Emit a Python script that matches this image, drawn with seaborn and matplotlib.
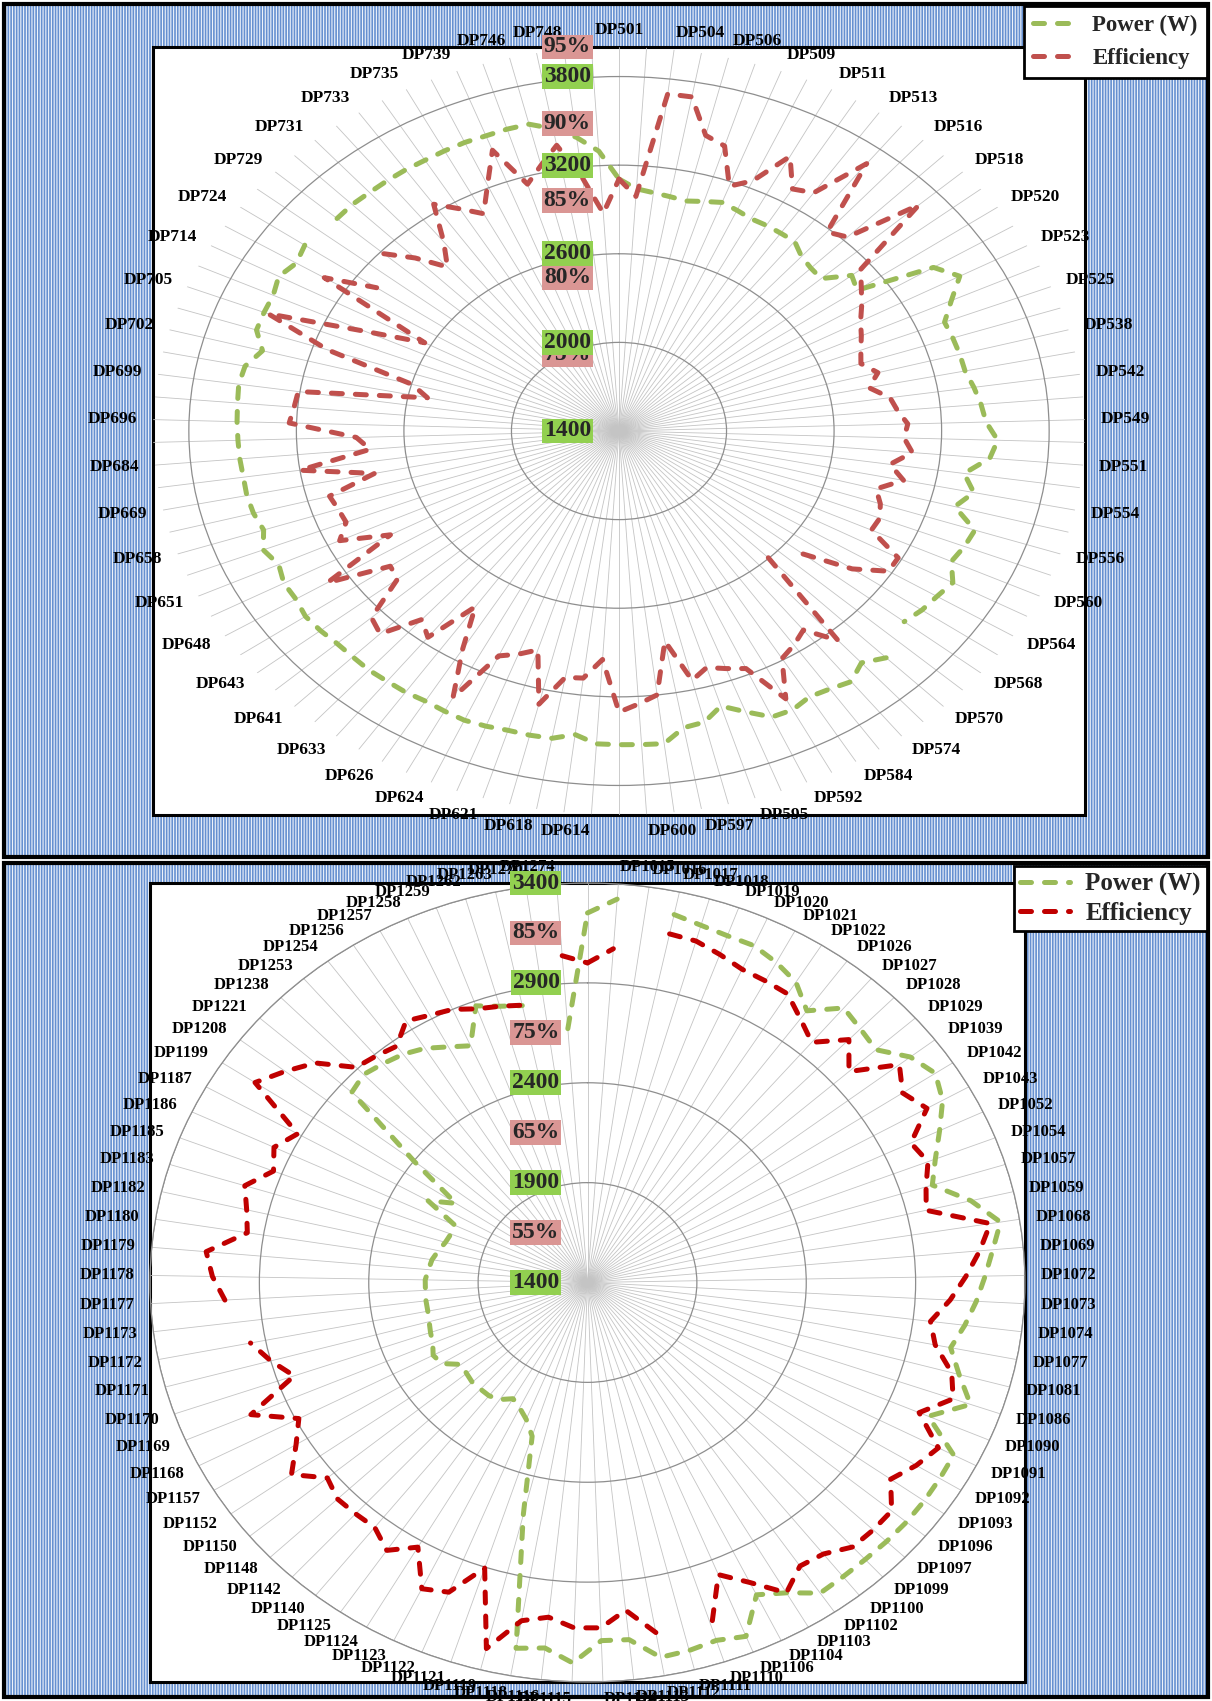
import numpy as np
import pandas as pd
import seaborn as sns
import matplotlib.pyplot as plt
from matplotlib.patches import Rectangle
from matplotlib.lines import Line2D
from matplotlib.transforms import offset_copy

sns.set_theme(style="white")
plt.rcParams['font.family'] = ['Liberation Serif', 'DejaVu Serif']
plt.rcParams['hatch.linewidth'] = 0.8

nan = np.nan

# ---- top chart (106 spokes, label on every second spoke) ----
top_labels = ['DP501', 'DP504', 'DP506', 'DP509', 'DP511', 'DP513', 'DP516', 'DP518', 'DP520',
              'DP523', 'DP525', 'DP538', 'DP542', 'DP549', 'DP551', 'DP554', 'DP556', 'DP560',
              'DP564', 'DP568', 'DP570', 'DP574', 'DP584', 'DP592', 'DP595', 'DP597', 'DP600',
              'DP614', 'DP618', 'DP621', 'DP624', 'DP626', 'DP633', 'DP641', 'DP643', 'DP648',
              'DP651', 'DP658', 'DP669', 'DP684', 'DP696', 'DP699', 'DP702', 'DP705', 'DP714',
              'DP724', 'DP729', 'DP731', 'DP733', 'DP735', 'DP739', 'DP746', 'DP748']

top_power = [3106, 3043, 3025, 3012, 3002, 3025, 3051, 3033, 3015, 3017,
             3015, 3015, 2960, 2937, 2929, 3072, 3035, 3475, 3571, 3454,
             3360, 3366, 3371, 3373, 3402, 3428, 3449, 3514, 3477, 3347,
             3423, 3342, 3496, 3480, 3454, 3527, 3498, 3480, 3449, nan,
             3540, 3472, 3535, 3506, 3490, 3522, 3516, 3428, 3347, 3428,
             3441, 3532, 3527, 3524, 3522, 3470, 3514, 3519, 3519, 3532,
             3540, 3532, 3524, 3532, 3532, 3537, 3532, 3532, 3545, 3553,
             3532, 3535, 3503, 3542, 3493, 3514, 3522, 3519, 3524, 3527,
             3532, 3537, 3545, 3532, 3462, 3535, 3537, 3537, 3568, 3529,
             3558, nan, 3532, 3537, 3532, 3532, 3532, 3529, 3532, 3535,
             3532, 3537, 3537, 3480, 3402, 3298]

top_eff = [86.4, 85.3, 92.1, 92.1, 89.8, 89.4, 87.0, 87.8, 90.1, 88.3,
           88.7, 91.9, 87.1, 87.6, 91.8, 86.7, 86.0, 85.4, 84.8, 84.4,
           84.0, 83.7, 84.4, 83.7, 84.7, 85.0, 85.5, 85.3, 85.8, 84.7,
           85.6, 84.3, 84.8, 85.1, 85.0, 87.1, 87.1, 85.4, 82.7, nan,
           81.5, 88.0, 86.3, 86.8, 87.2, 89.6, 86.9, 86.5, 86.1, 86.7,
           83.9, 87.3, 87.8, 88.3, 84.9, 86.2, 86.3, 88.3, 84.9, 85.5,
           86.0, 89.5, 86.5, 83.8, 86.9, 86.2, 88.4, 88.0, 85.3, 85.1,
           88.5, 84.0, 86.6, 85.8, 85.9, 86.1, 83.4, 87.3, 83.4, 84.1,
           87.7, 87.5, 87.4, 80.5, 81.5, 86.5, 90.3, 85.1, 81.9, 88.7,
           86.0, nan, 87.1, 85.7, 84.1, 85.5, 87.8, 86.8, 85.9, 87.5,
           89.5, 86.8, 87.8, 88.9, 86.6, 84.2]

top_power_ticks = [1400, 2000, 2600, 3200, 3800]
top_eff_ticks = [75, 80, 85, 90, 95]

# ---- bottom chart (89 spokes, first label hidden) ----
bot_labels = ['', 'DP1015', 'DP1016', 'DP1017', 'DP1018', 'DP1019', 'DP1020', 'DP1021', 'DP1022',
              'DP1026', 'DP1027', 'DP1028', 'DP1029', 'DP1039', 'DP1042', 'DP1043', 'DP1052',
              'DP1054', 'DP1057', 'DP1059', 'DP1068', 'DP1069', 'DP1072', 'DP1073', 'DP1074',
              'DP1077', 'DP1081', 'DP1086', 'DP1090', 'DP1091', 'DP1092', 'DP1093', 'DP1096',
              'DP1097', 'DP1099', 'DP1100', 'DP1102', 'DP1103', 'DP1104', 'DP1106', 'DP1110',
              'DP1111', 'DP1112', 'DP1113', 'DP1114', 'DP1115', 'DP1116', 'DP1118', 'DP1119',
              'DP1121', 'DP1122', 'DP1123', 'DP1124', 'DP1125', 'DP1140', 'DP1142', 'DP1148',
              'DP1150', 'DP1152', 'DP1157', 'DP1168', 'DP1169', 'DP1170', 'DP1171', 'DP1172',
              'DP1173', 'DP1177', 'DP1178', 'DP1179', 'DP1180', 'DP1182', 'DP1183', 'DP1185',
              'DP1186', 'DP1187', 'DP1199', 'DP1208', 'DP1221', 'DP1238', 'DP1253', 'DP1254',
              'DP1256', 'DP1257', 'DP1258', 'DP1259', 'DP1262', 'DP1263', 'DP1270', 'DP1274']

bot_power = [3250, 3324, nan, 3284, 3262, 3250, 3250, 3220, 3180, 3090,
             3206, 3180, 3160, 3258, 3304, 3262, 3180, 3106, 3050, 3200,
             3312, 3260, 3218, 3180, 3138, 3092, 3160, 3254, 3096, 3284,
             3286, 3288, 3288, 3284, 3280, 3280, 3284, 3200, 3144, 3314,
             3286, 3300, 3306, 3198, 3194, 3306, 3240, 3260, 2600, 2210,
             2140, 2100, 2074, 2110, 2124, 2124, 2126, 2116, 2108, 2180,
             2194, 2170, 2160, 2150, 2144, 2144, 2142, 2142, 2130, 2120,
             2100, 2080, 2070, 2070, 2236, 2120, 2396, 2838, 2860, 2840,
             2820, 2788, 2740, 2700, 2876, 2840, 2818, nan, 2674]

bot_eff = [82.0, 83.5, nan, 85.7, 85.6, 85.0, 84.4, 84.3, 84.2, 82.8,
           81.6, 84.1, 81.9, 85.9, 84.5, 85.6, 82.7, 83.4, 82.4, 81.8,
           87.3, 86.0, 84.6, 83.2, 81.6, 82.4, 84.5, 85.4, 83.0, 86.1,
           85.2, 84.0, 86.0, 86.0, 85.9, 84.7, 84.4, 86.0, 83.5, 81.6,
           86.3, nan, 85.6, 83.0, 84.6, 84.6, 83.7, 84.4, 87.8, 80.1,
           83.5, 84.2, 80.7, 82.5, 81.3, 81.4, 81.5, 80.8, 83.2, 81.2,
           79.7, 83.5, 78.4, 80.0, 81.4, nan, 83.2, 84.3, 85.0, 81.5,
           82.0, 82.8, 80.8, 81.7, 80.4, 86.4, 84.8, 83.2, 80.2, 79.8,
           79.4, 81.0, 80.4, 80.0, 79.2, 78.8, 78.4, nan, 82.8]

bot_power_ticks = [1400, 1900, 2400, 2900, 3400]
bot_eff_ticks = [55, 65, 75, 85]

W, H = 1212, 1701
fig = plt.figure(figsize=(W / 100, H / 100), dpi=100)
fig.patch.set_facecolor('white')


def fbox(x0, y0, x1, y1):
    return [x0 / W, 1 - y1 / H, (x1 - x0) / W, (y1 - y0) / H]


def rect(x0, y0, x1, y1, **kw):
    b = fbox(x0, y0, x1, y1)
    return fig.add_artist(Rectangle((b[0], b[1]), b[2], b[3], transform=fig.transFigure, **kw))


# blue textured panels + white plot areas
for (y0, y1) in [(4, 857), (863, 1697)]:
    rect(4, y0, 1208, y1, facecolor='#6690d0', edgecolor='#eef3fb', hatch='||||||', lw=0, zorder=-6)
    rect(4, y0, 1208, y1, facecolor='none', edgecolor='black', lw=3, zorder=-5)
rect(153, 47, 1085, 815, facecolor='white', edgecolor='black', lw=2.2, zorder=-4)
rect(150, 883, 1025, 1682, facecolor='white', edgecolor='black', lw=2.2, zorder=-4)


def loop_frame(vals):
    n = len(vals)
    th = np.append(np.arange(n) * 2 * np.pi / n, 2 * np.pi)
    v = np.append(np.asarray(vals, float), vals[0])
    seg = np.cumsum(np.isnan(v))
    return pd.DataFrame({'theta': th, 'val': v, 'seg': seg}).dropna()


def radar(box, power, eff, labels, every, prange, erange, pticks, eticks,
          red, outer_ring, lab_size):
    n = len(power)
    theta = np.arange(n) * 2 * np.pi / n
    ax = fig.add_axes(fbox(*box), projection='polar')
    ax2 = fig.add_axes(fbox(*box), projection='polar')
    for a in (ax, ax2):
        a.set_theta_zero_location('N')
        a.set_theta_direction(-1)
        a.set_facecolor('none')
        a.set_aspect('auto')

    dash = dict(lw=3.6, linestyle=(0, (2.2, 2.6)), dash_capstyle='round',
                estimator=None, sort=False, legend=False)
    sns.lineplot(data=loop_frame(power), x='theta', y='val', units='seg',
                 color='#9bbb59', ax=ax, **dash)
    sns.lineplot(data=loop_frame(eff), x='theta', y='val', units='seg',
                 color=red, ax=ax2, **dash)

    ax.set_ylim(*prange)
    ax2.set_ylim(*erange)
    ax.set_xticks(theta)
    ax.set_xticklabels([])
    ax.set_yticks(pticks[1:])
    ax.set_yticklabels([])
    ax.xaxis.grid(True, color='#c4c4c4', lw=0.6)
    ax.yaxis.grid(True, color='#8e8e8e', lw=0.9)
    ax.spines['polar'].set_visible(outer_ring)
    ax.spines['polar'].set_color('#8e8e8e')
    ax.spines['polar'].set_linewidth(0.9)
    ax2.grid(False)
    ax2.set_xticks([])
    ax2.set_yticks([])
    ax2.spines['polar'].set_visible(False)
    for a in (ax, ax2):
        a.set_xlabel('')
        a.set_ylabel('')

    # category labels around the radar
    for i in range(0, n, every):
        lab = labels[i // every]
        if not lab:
            continue
        s, c = np.sin(theta[i]), np.cos(theta[i])
        ha = 'left' if s > 0.02 else ('right' if s < -0.02 else 'center')
        tr = offset_copy(ax.transData, fig=fig, x=16 * s, y=17 * c, units='dots')
        ax.text(theta[i], prange[1], lab, transform=tr, ha=ha, va='center',
                fontsize=lab_size, fontweight='bold', color='black', clip_on=False)

    # value axis labels (boxes on the vertical axis)
    for v in eticks:
        tr = offset_copy(ax2.transData, fig=fig, x=-28, y=0, units='dots')
        ax2.text(0, v, f'{v}%', transform=tr, ha='right', va='center', fontsize=17,
                 fontweight='bold', zorder=10, clip_on=False,
                 bbox=dict(boxstyle='square,pad=0.08', fc='#da9694', ec='none'))
    for v in pticks:
        tr = offset_copy(ax.transData, fig=fig, x=-28, y=0, units='dots')
        ax2.text(0, v, f'{v}', transform=tr, ha='right', va='center', fontsize=17,
                 fontweight='bold', zorder=11, clip_on=False,
                 bbox=dict(boxstyle='square,pad=0.08', fc='#92d050', ec='none'))
    return ax, ax2


def legend(red, anchor, size, spacing, bpad):
    h = [Line2D([], [], color='#9bbb59', lw=3.6, linestyle=(0, (2.2, 2.6)), dash_capstyle='round'),
         Line2D([], [], color=red, lw=3.6, linestyle=(0, (2.2, 2.6)), dash_capstyle='round')]
    lg = fig.legend(h, ['Power (W)', 'Efficiency'], loc='upper right',
                    bbox_to_anchor=(anchor[0] / W, 1 - anchor[1] / H),
                    frameon=True, fancybox=False, framealpha=1, edgecolor='black',
                    borderaxespad=0, handlelength=2.0, handletextpad=0.6,
                    borderpad=bpad, labelspacing=spacing,
                    prop=dict(family='Liberation Serif', weight='bold', size=size))
    lg.get_frame().set_linewidth(2)
    lg.set_zorder(20)


radar((153, 47, 1085, 815), top_power, top_eff, top_labels, 2, (1400, 4000), (70, 95),
      top_power_ticks, top_eff_ticks, '#c0504d', False, 12.5)
radar((150, 883, 1025, 1682), bot_power, bot_eff, bot_labels, 1, (1400, 3400), (50, 90),
      bot_power_ticks, bot_eff_ticks, '#c00000', True, 12)

legend('#c0504d', (1207, 6), 16.5, 0.5, 0.4)
legend('#c00000', (1207, 866), 18, 0.25, 0.25)

fig.savefig('out.png', dpi=100, facecolor=fig.get_facecolor())
